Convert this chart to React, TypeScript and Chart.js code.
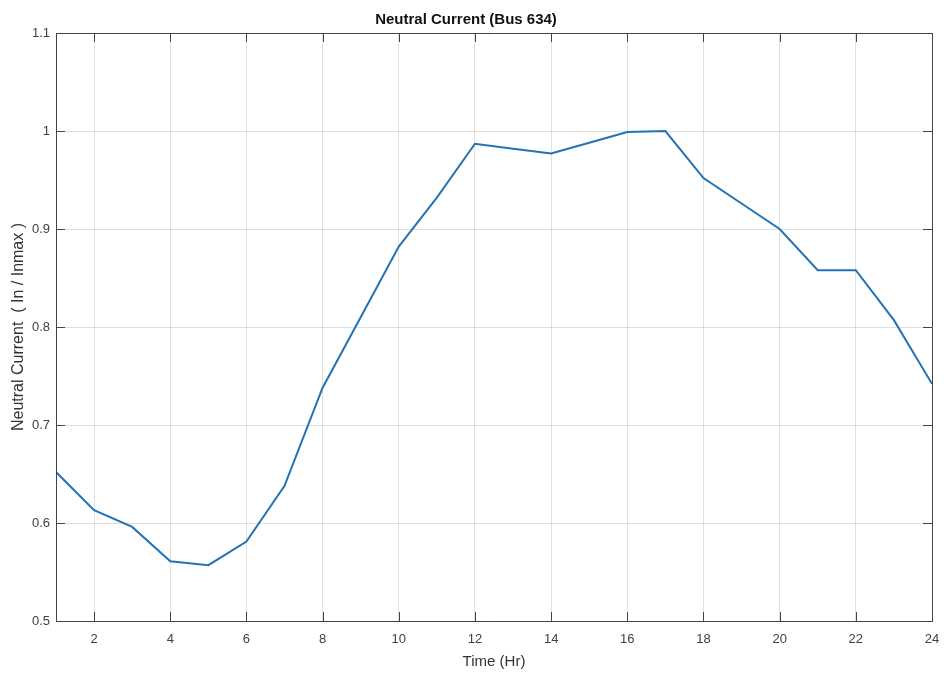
import React, { useEffect, useRef } from "react";
import { Chart, registerables } from "chart.js";

Chart.register(...registerables);

const HOURS = [1, 2, 3, 4, 5, 6, 7, 8, 9, 10, 11, 12, 13, 14, 15, 16, 17, 18, 19, 20, 21, 22, 23, 24];
const NEUTRAL_CURRENT = [
  0.652, 0.613, 0.596, 0.561, 0.557, 0.581, 0.638, 0.738, 0.81, 0.882, 0.932, 0.987,
  0.982, 0.977, 0.988, 0.999, 1.0, 0.952, 0.926, 0.9, 0.858, 0.858, 0.807, 0.742,
];
const X_TICKS = [2, 4, 6, 8, 10, 12, 14, 16, 18, 20, 22, 24];
const Y_TICKS = [0.5, 0.6, 0.7, 0.8, 0.9, 1.0, 1.1];

const TITLE = "Neutral Current (Bus 634)";
const X_TITLE = "Time (Hr)";
const Y_TITLE = "Neutral Current  ( In / Inmax )";

const FONT = "'Liberation Sans', Arial, Helvetica, sans-serif";
const TICK_LEN = 9;

const boxPlugin = {
  id: "matlabBox",
  afterDatasetsDraw(chart: any) {
    const { ctx, chartArea } = chart;
    const { left, right, top, bottom } = chartArea;
    const xs = chart.scales.x;
    const ys = chart.scales.y;
    ctx.save();
    ctx.strokeStyle = "#444444";
    ctx.lineWidth = 1;
    ctx.beginPath();
    X_TICKS.forEach((v) => {
      const px = Math.round(xs.getPixelForValue(v)) + 0.5;
      ctx.moveTo(px, bottom);
      ctx.lineTo(px, bottom - TICK_LEN);
      ctx.moveTo(px, top);
      ctx.lineTo(px, top + TICK_LEN);
    });
    Y_TICKS.forEach((v) => {
      const py = Math.round(ys.getPixelForValue(v)) + 0.5;
      ctx.moveTo(left, py);
      ctx.lineTo(left + TICK_LEN, py);
      ctx.moveTo(right, py);
      ctx.lineTo(right - TICK_LEN, py);
    });
    ctx.stroke();
    ctx.beginPath();
    ctx.rect(Math.round(left) + 0.5, Math.round(top) + 0.5, Math.round(right - left), Math.round(bottom - top));
    ctx.stroke();
    ctx.restore();
  },
};

export default function App() {
  const ref = useRef<HTMLCanvasElement | null>(null);

  useEffect(() => {
    if (!ref.current) return;
    const chart = new Chart(ref.current, {
      type: "line",
      data: {
        datasets: [
          {
            data: HOURS.map((h, i) => ({ x: h, y: NEUTRAL_CURRENT[i] })),
            borderColor: "#2372b4",
            borderWidth: 2,
            pointRadius: 0,
            tension: 0,
            fill: false,
          },
        ],
      },
      options: {
        responsive: false,
        animation: false,
        layout: { padding: { left: 0, right: 15, top: 0, bottom: 0 } },
        plugins: {
          legend: { display: false },
          tooltip: { enabled: false },
          title: {
            display: true,
            text: TITLE,
            color: "#111111",
            font: { family: FONT, size: 15, weight: "bold" },
            padding: { top: 11, bottom: 4 },
          },
        },
        scales: {
          x: {
            type: "linear",
            min: 1,
            max: 24,
            afterBuildTicks: (scale: any) => {
              scale.ticks = X_TICKS.map((v) => ({ value: v }));
            },
            afterFit: (scale: any) => {
              scale.height = 53;
              scale.paddingLeft = 0;
              scale.paddingRight = 0;
            },
            ticks: {
              color: "#404040",
              font: { family: FONT, size: 13 },
              padding: 11,
              maxRotation: 0,
              autoSkip: false,
              callback: (v: any) => String(v),
            },
            grid: { color: "rgba(0,0,0,0.12)", drawTicks: false },
            border: { color: "#444444", width: 1 },
            title: {
              display: true,
              text: X_TITLE,
              color: "#333333",
              font: { family: FONT, size: 15 },
              padding: { top: 0, bottom: 3 },
            },
          },
          y: {
            type: "linear",
            min: 0.5,
            max: 1.1,
            afterBuildTicks: (scale: any) => {
              scale.ticks = Y_TICKS.map((v) => ({ value: v }));
            },
            afterFit: (scale: any) => {
              scale.width = 56;
              scale.paddingTop = 0;
              scale.paddingBottom = 0;
            },
            ticks: {
              color: "#404040",
              font: { family: FONT, size: 13 },
              padding: 6,
              autoSkip: false,
              callback: (v: any) => String(Number(Number(v).toFixed(1))),
            },
            grid: { color: "rgba(0,0,0,0.12)", drawTicks: false },
            border: { color: "#444444", width: 1 },
            title: {
              display: true,
              text: Y_TITLE,
              color: "#333333",
              font: { family: FONT, size: 16 },
              padding: { top: 9, bottom: 0 },
            },
          },
        },
      },
      plugins: [boxPlugin],
    });
    return () => chart.destroy();
  }, []);

  return (
    <div style={{ position: "fixed", left: 0, top: 0, width: 947, height: 674, background: "#ffffff" }}>
      <canvas ref={ref} width={947} height={674} style={{ display: "block" }} />
    </div>
  );
}
